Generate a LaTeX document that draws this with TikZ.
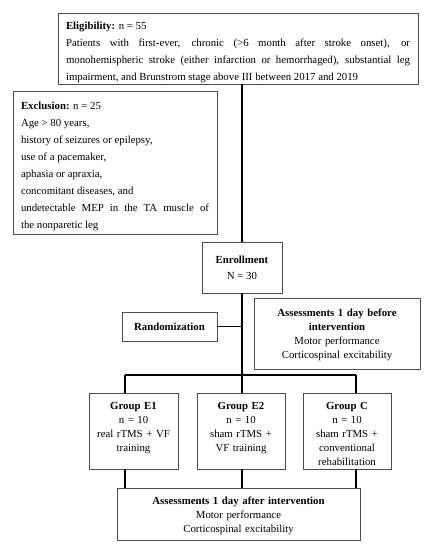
\documentclass[tikz,border=0pt]{standalone}
\usepackage{fontspec}
\setmainfont{Liberation Serif}
\newcommand{\firststrut}[1]{\rule{0pt}{#1}}
\tikzset{every picture/.style={line width=0.75pt}}
\tikzset{
  box/.style={draw=black!70, rectangle, inner xsep=8pt, inner ysep=0pt},
  widebox/.style={box, font=\fontsize{10.8}{17}\selectfont, align=justify},
  smallbox/.style={box, font=\fontsize{10.8}{14}\selectfont, align=center},
  link/.style={line width=1.6pt}
}

\begin{document}
\begin{tikzpicture}[x=1pt,y=1pt,yscale=-1,xscale=1]
	\useasboundingbox (0,0) rectangle (431,550);

	%Shape: Rectangle [id:eligibility]
	\node[widebox, text width=344, minimum height=71] (elig) at (238,48.5) {\firststrut{16pt}\textbf{Eligibility:} n = 55\\
	Patients with first-ever, chronic (>6 month after stroke onset), or\linebreak
	monohemispheric stroke (either infarction or hemorrhaged), substantial leg\linebreak
	impairment, and Brunstrom stage above III between 2017 and 2019};
	%Shape: Rectangle [id:exclusion]
	\node[widebox, text width=188, minimum height=143] (excl) at (115,162.5) {\firststrut{16pt}\textbf{Exclusion:} n = 25\\
	Age > 80 years,\\
	history of seizures or epilepsy,\\
	use of a pacemaker,\\
	aphasia or apraxia,\\
	concomitant diseases, and\\
	undetectable MEP in the TA muscle of\linebreak
	the nonparetic leg};
	%Shape: Rectangle [id:enrollment]
	\node[smallbox, minimum width=80, minimum height=51, font=\fontsize{10.8}{16}\selectfont] (enrol) at (242,267.5) {\textbf{Enrollment}\\ N = 30};
	%Shape: Rectangle [id:randomization]
	\node[smallbox, minimum width=95, minimum height=29] (rand) at (169.5,326.5) {\textbf{Randomization}};
	%Shape: Rectangle [id:before]
	\node[smallbox, text width=150, minimum height=71] (pre) at (337,333.5) {\firststrut{11pt}\textbf{Assessments 1 day before}\\ \textbf{intervention}\\ Motor performance\\ Corticospinal excitability};

	%Shape: Rectangle [id:groups]
	\node[smallbox, text width=73, minimum height=76] (e1) at (133.5,431) {\firststrut{13pt}\textbf{Group E1}\\ n = 10\\ real rTMS + VF\\ training\\ \mbox{}};
	\node[smallbox, text width=72, minimum height=76] (e2) at (241,431) {\firststrut{13pt}\textbf{Group E2}\\ n = 10\\ sham rTMS +\\ VF training\\ \mbox{}};
	\node[smallbox, text width=72, minimum height=76] (c) at (347,431) {\firststrut{13pt}\textbf{Group C}\\ n = 10\\ sham rTMS +\\ conventional\\ rehabilitation};
	%Shape: Rectangle [id:after]
	\node[smallbox, text width=227, minimum height=52] (post) at (238.5,514) {\firststrut{11pt}\textbf{Assessments 1 day after intervention}\\ Motor performance\\ Corticospinal excitability};

	%Straight Lines [id:branch]
	\coordinate (splitL) at (125,375);
	\coordinate (splitM) at (242,375);
	\coordinate (splitR) at (356,375);

	\draw[link] (elig.south -| enrol) -- (enrol.north);
	\draw[link] (enrol.south) -- (splitM);
	\draw[link] (rand.east) -- (rand.east -| enrol);
	\draw[link] (splitL) -- (splitR);
	\draw[link] (splitL) -- (splitL |- e1.north);
	\draw[link] (splitM) -- (splitM |- e2.north);
	\draw[link] (splitR) -- (splitR |- c.north);
	\draw[link] (splitL |- e1.south) -- (splitL |- post.north);
	\draw[link] (splitM |- e2.south) -- (splitM |- post.north);
	\draw[link] (splitR |- c.south) -- (splitR |- post.north);

\end{tikzpicture}
\end{document}
